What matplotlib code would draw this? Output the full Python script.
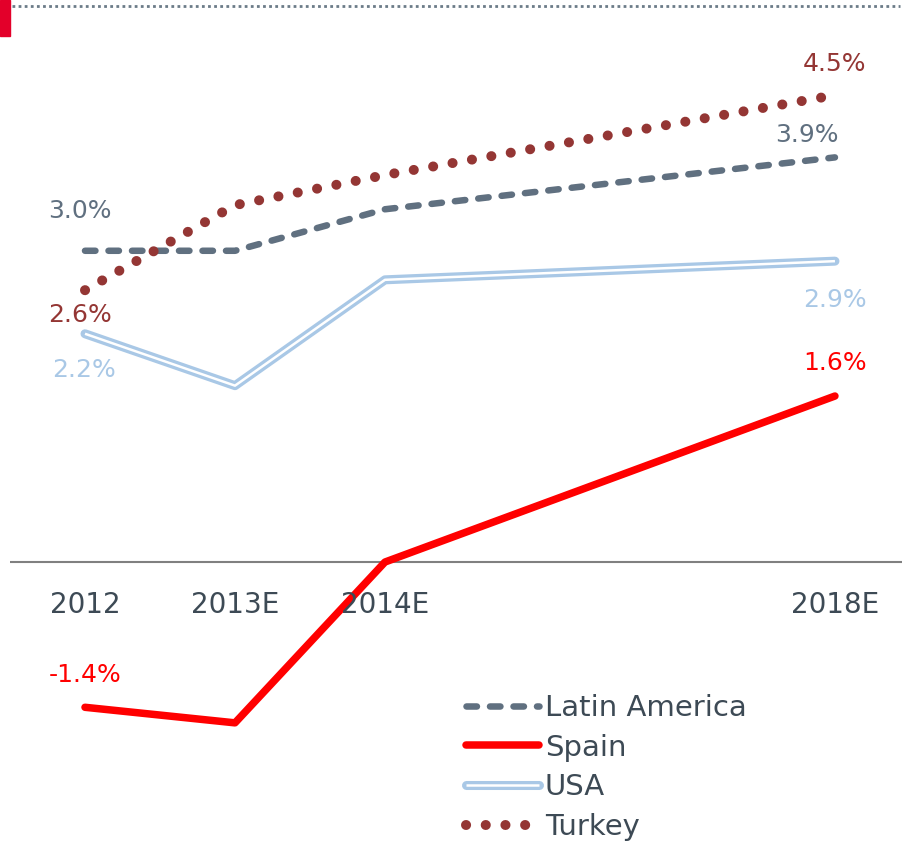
import matplotlib
matplotlib.use("Agg")
import matplotlib.pyplot as plt
import matplotlib.patheffects as pe
from matplotlib.lines import Line2D
from matplotlib.patches import Rectangle

# Datos
periodos = ["2012", "2013E", "2014E", "2018E"]
x_pos = [0, 1, 2, 5]
latam = [3.0, 3.0, 3.4, 3.9]
espana = [-1.4, -1.55, 0.0, 1.6]
usa = [2.2, 1.7, 2.72, 2.9]
turquia = [2.62, 3.44, 3.73, 4.5]

c_latam = "#607080"
c_esp = "#ff0000"
c_usa = "#a9c8e6"
c_tur = "#943634"
c_txt = "#3d4a55"

plt.rcParams["font.family"] = ["DejaVu Sans"]

fig = plt.figure(figsize=(9.02, 8.43), dpi=100)
ax = fig.add_axes([10/902, 0, 892/902, 1])
ax.set_xlim(-0.5, 5.447)
ax.set_ylim(-2.708, 5.417)
ax.axis("off")

# Eje horizontal en cero
ax.axhline(0, color="#808080", linewidth=1.5)

# Series
ax.plot(x_pos, latam, color=c_latam, linewidth=4.7, dashes=(1.6, 2.0),
        dash_capstyle="round", solid_joinstyle="round", label="Latin America", clip_on=False)
ax.plot(x_pos, espana, color=c_esp, linewidth=5.4, solid_capstyle="round",
        label="Spain", clip_on=False)
ax.plot(x_pos, usa, color="white", linewidth=1.8, solid_capstyle="butt",
        path_effects=[pe.Stroke(linewidth=6.5, foreground=c_usa, capstyle="round"), pe.Normal()],
        label="USA", clip_on=False)
ax.plot(x_pos, turquia, color=c_tur, linewidth=7.2, dashes=(0.01, 1.96),
        dash_capstyle="round", label="Turkey", clip_on=False)

# Etiquetas de valores
etiquetas = [
    (0, latam[0], c_latam, (-5, 40)),
    (0, turquia[0], c_tur, (-5, -25)),
    (0, usa[0], c_usa, (-1, -36)),
    (0, espana[0], c_esp, (0, 32)),
    (5, turquia[3], c_tur, (0, 31)),
    (5, latam[3], c_latam, (-28, 22)),
    (5, usa[3], c_usa, (0, -39)),
    (5, espana[3], c_esp, (0, 33)),
]
for xx, yy, col, off in etiquetas:
    ax.annotate(f"{yy:.1f}%", xy=(xx, yy), xytext=off, textcoords="offset pixels",
                ha="center", va="center", color=col, fontsize=18)

# Etiquetas del eje x
for xx, lab in zip(x_pos, periodos):
    ax.annotate(lab, xy=(xx, 0), xytext=(0, -43), textcoords="offset pixels",
                ha="center", va="center", color=c_txt, fontsize=20)

# Leyenda
leg = ax.legend(loc="upper left", bbox_to_anchor=(466/902, 1 - 694/843),
                bbox_transform=fig.transFigure, frameon=False, fontsize=21,
                handlelength=2.5, handletextpad=0.2, labelspacing=0.4,
                borderpad=0, borderaxespad=0)
for t in leg.get_texts():
    t.set_color(c_txt)

# Decoracion superior
fig.add_artist(Line2D([12/902, 900/902], [1 - 6/843, 1 - 6/843], color="#6b7b88",
                      linewidth=2, dashes=(1, 1.2), transform=fig.transFigure))
fig.add_artist(Rectangle((0, 1 - 36/843), 10/902, 36/843, color="#e3002a",
                         transform=fig.transFigure))

fig.savefig("out.png", dpi=100)
